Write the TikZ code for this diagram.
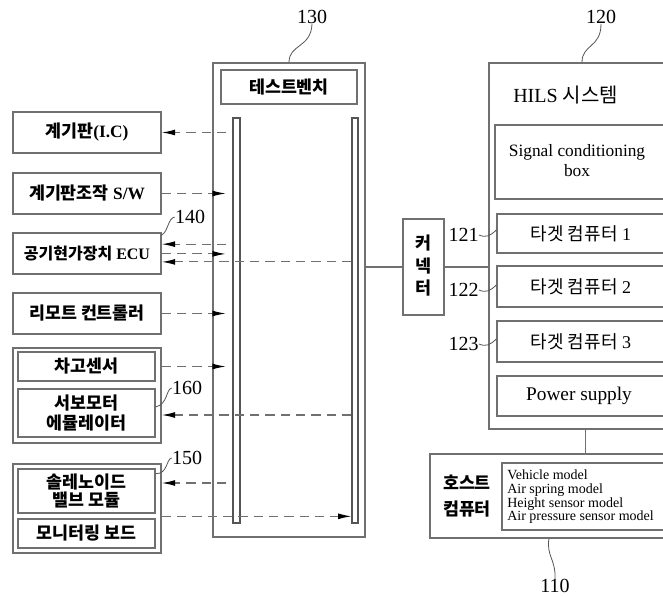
\documentclass[tikz,border=0pt]{standalone}
\usepackage{fontspec}
\setmainfont{Liberation Serif}
\newfontfamily\kr{Noto Sans CJK KR}
\usetikzlibrary{arrows.meta,fit}
\definecolor{lgray}{HTML}{707070}
\definecolor{dgray}{HTML}{555555}
\begin{document}
\begin{tikzpicture}[x=0.75pt,y=-0.75pt,
  box/.style={draw=lgray, line width=1pt, inner sep=0pt},
  rail/.style={draw=dgray, line width=0.8pt, inner sep=0pt},
  lbl/.style={font=\bfseries\fontsize{13}{16}\selectfont, align=center, inner sep=0pt},
  rtxt/.style={font=\fontsize{13.5}{16}\selectfont, align=center, inner sep=0pt},
  num/.style={font=\fontsize{15}{15}\selectfont, inner sep=0pt},
  darr/.style={draw=lgray, dash pattern=on 7pt off 4.5pt, line width=0.9pt, -{Latex[length=10pt,width=4.4pt,color=black]}},
  lead/.style={draw=dgray, line width=0.6pt},
  conn/.style={draw=lgray, line width=0.8pt}]
\clip (0,0) rectangle (663,598);
\fill[white] (0,0) rectangle (663,598);
% left column
\node[box, fit={(13,112)(161,153)}] (ic) {};
\node[lbl] (ict) at (ic.center) {{\kr 계기판}(I.C)};
\node[box, fit={(13,173)(161,214)}] (sw) {};
\node[lbl] (swt) at (sw.center) {{\kr 계기판조작} S/W};
\node[box, fit={(13,233)(161,274)}] (ecu) {};
\node[lbl, font=\bfseries\fontsize{12}{15}\selectfont] (ecut) at (ecu.center) {{\kr 공기현가장치} ECU};
\node[box, fit={(13,293)(161,334)}] (rc) {};
\node[lbl] (rct) at (rc.center) {\kr 리모트 컨트롤러};
\node[box, fit={(13,348)(161,443)}] (g1) {};
\node[box, fit={(18,352)(155,381)}] (hs) {};
\node[lbl] (hst) at (hs.center) {\kr 차고센서};
\node[box, fit={(18,389)(155,437)}] (servo) {};
\node[lbl, font=\bfseries\fontsize{13}{15.5}\selectfont] (servot) at (servo.center) {\kr 서보모터\\\kr 에뮬레이터};
\node[box, fit={(13,464)(161,553)}] (g2) {};
\node[box, fit={(18,469)(155,513)}] (sol) {};
\node[lbl, font=\bfseries\fontsize{13}{14}\selectfont] (solt) at (sol.center) {\kr 솔레노이드\\\kr 밸브 모듈};
\node[box, fit={(18,519)(155,548)}] (mon) {};
\node[lbl] (mont) at (mon.center) {\kr 모니터링 보드};
% test bench
\node[box, fit={(213,63)(365,537)}] (tb) {};
\node[box, fit={(221,70)(357,104)}] (tbt) {};
\node[lbl] (tbtt) at (tbt.center) {\kr 테스트벤치};
\node[rail, fit={(233,118)(240,523)}] (rl) {};
\node[rail, fit={(352,118)(358,523)}] (rr) {};
% connector
\node[box, fit={(403,219)(444,315)}] (cn) {};
\node[lbl, font=\bfseries\fontsize{13}{17}\selectfont] (cnt) at ([yshift=1pt]cn.center) {\kr 커\\\kr 넥\\\kr 터};
% HILS
\node[box, fit={(489,63)(690,429)}] (hils) {};
\node[anchor=west, font=\fontsize{15}{16}\selectfont, inner sep=0pt] (hilst) at (513,95) {HILS {\kr 시스템}};
\node[box, fit={(495,125)(690,199)}] (scb) {};
\node[rtxt, font=\fontsize{13}{15}\selectfont] (scbt) at (577,161) {Signal conditioning\\box};
\node[box, fit={(497,214)(690,253)}] (t1) {};
\node[rtxt] (t1t) at (581,234) {{\kr 타겟 컴퓨터} 1};
\node[box, fit={(497,266)(690,307)}] (t2) {};
\node[rtxt] (t2t) at (581,287) {{\kr 타겟 컴퓨터} 2};
\node[box, fit={(497,321)(690,362)}] (t3) {};
\node[rtxt] (t3t) at (581,342) {{\kr 타겟 컴퓨터} 3};
\node[box, fit={(497,376)(690,416)}] (ps) {};
\node[rtxt, font=\fontsize{14.5}{16}\selectfont] (pst) at (579,396) {Power supply};
% host
\node[box, fit={(430,454)(690,538)}] (host) {};
\node[lbl, font=\bfseries\fontsize{13}{19}\selectfont] (hostt) at (467,496) {\kr 호스트\\\kr 컴퓨터};
\node[box, fit={(502,463)(690,530)}] (models) {};
\node[anchor=north west, align=left, inner sep=0pt, font=\fontsize{10.5}{10.2}\selectfont] (modelst) at (507,470) {Vehicle model\\Air spring model\\Height sensor model\\Air pressure sensor model};
% connections
\draw[conn] (tb.east |- cn.west) -- (cn.west);
\draw[conn] (cn.east) -- (cn.east -| hils.west);
\draw[conn] ([xshift=-3pt]hils.south) -- ([xshift=-3pt]hils.south |- host.north);
% arrows
\draw[darr] ([xshift=-4.5pt]rl.west |- ic.east) -- (ic.east);
\draw[darr] (sw.east) -- ([xshift=-5pt]rl.west |- sw.east);
\draw[darr] ([xshift=-4.5pt,yshift=7pt]rl.west |- ecu.east) -- ([yshift=7pt]ecu.east);
\draw[darr] ([yshift=-0.3pt]ecu.east) -- ([xshift=-5pt,yshift=-0.3pt]rl.west |- ecu.east);
\draw[darr] ([yshift=-6.3pt]rr.west |- ecu.east) -- ([yshift=-6.3pt]ecu.east);
\draw[darr] (rc.east) -- ([xshift=-5pt]rl.west |- rc.east);
\draw[darr] (g1.east |- hs.east) -- ([xshift=-5pt]rl.west |- hs.east);
\coordinate (sv) at ([yshift=-1.5pt]servo.east);
\draw[darr] (rr.west |- sv) -- (g1.east |- sv);
\coordinate (sl) at ([yshift=6pt]sol.east);
\draw[darr] ([xshift=-4.5pt]rl.west |- sl) -- (g2.east |- sl);
\coordinate (mn) at ([yshift=1.5pt]mon.north);
\draw[darr] (g2.east |- mn) -- (rr.west |- mn);
% reference numbers
\node[num] (n130) at (312,17) {130};
\draw[lead] (tb.north -| 289,0) .. controls (289,44) and (311,48) .. (n130.south);
\node[num] (n120) at (601,17) {120};
\draw[lead] (hils.north -| 582,0) .. controls (582,44) and (601,48) .. (n120.south);
\node[num] (n110) at (555,586) {110};
\draw[lead] (host.south -| 549,0) .. controls (546,555) and (556,560) .. (n110.north);
\node[num] (n140) at (190,217) {140};
\draw[lead] ([yshift=-2pt]ecu.north east) .. controls (168,232) and (168,218) .. (n140.west);
\node[num] (n160) at (187,388) {160};
\draw[lead] ([yshift=-14pt]servo.north east) .. controls (168,404) and (166,389) .. (n160.west);
\node[num] (n150) at (187,458) {150};
\draw[lead] ([yshift=-4pt]sol.north east) .. controls (168,474) and (166,459) .. (n150.west);
\node[num, anchor=east] (n121) at (479,235) {121};
\draw[lead] (n121.east) .. controls (486,238) and (490,236) .. (t1.west |- 0,230);
\node[num, anchor=east] (n122) at (479,290) {122};
\draw[lead] (n122.east) .. controls (486,293) and (490,291) .. (t2.west |- 0,285);
\node[num, anchor=east] (n123) at (479,344) {123};
\draw[lead] (n123.east) .. controls (486,347) and (490,345) .. (t3.west |- 0,339);
\end{tikzpicture}
\end{document}
